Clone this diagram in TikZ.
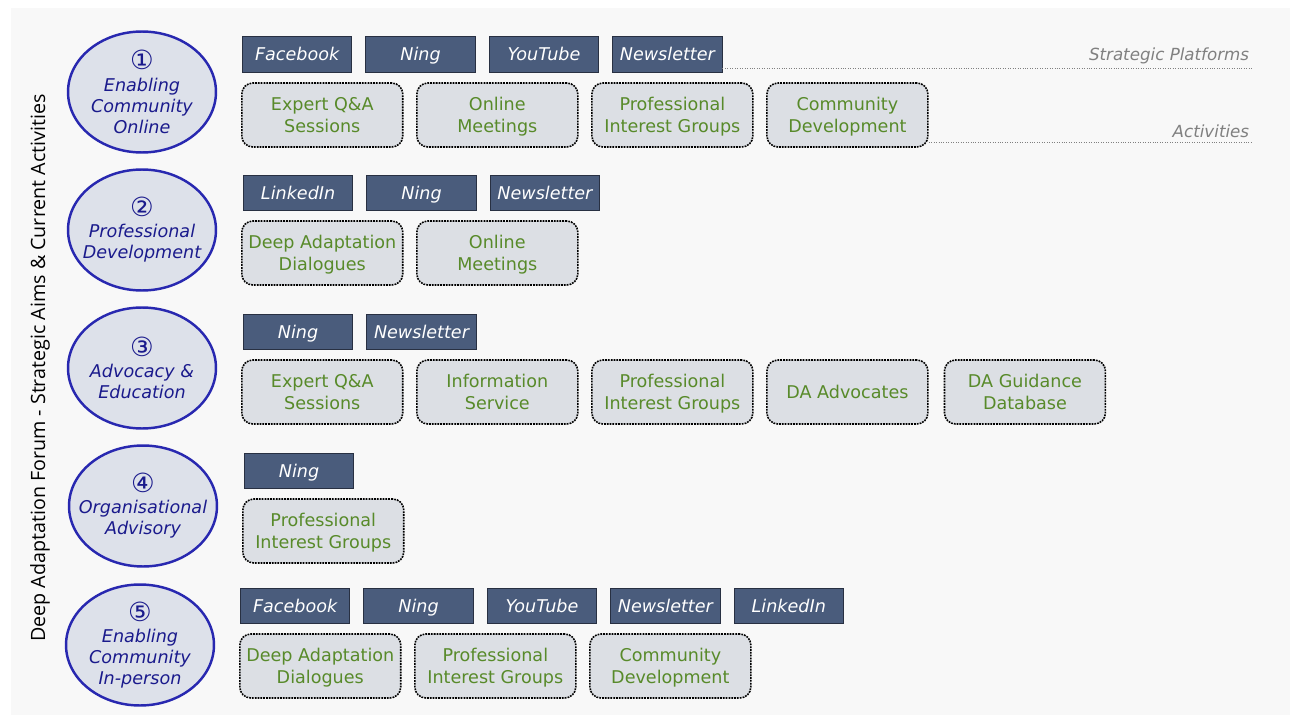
\documentclass[tikz,border=0pt]{standalone}
\usepackage{fontspec}
\setmainfont{DejaVu Sans}
\newfontfamily\titlefont{Open Sans}
\usepackage{tikz}
\usetikzlibrary{shapes}
\usetikzlibrary{positioning}

\definecolor{bgfill}{RGB}{248,248,248}
\definecolor{platfill}{RGB}{74,92,124}
\definecolor{platline}{RGB}{40,48,66}
\definecolor{actfill}{RGB}{220,223,228}
\definecolor{acttext}{RGB}{88,138,42}
\definecolor{aimfill}{RGB}{221,225,234}
\definecolor{aimline}{RGB}{40,40,176}
\definecolor{aimtext}{RGB}{26,26,140}
\definecolor{guidetext}{RGB}{128,128,128}

\newcommand{\aimnum}[1]{{\upshape\fontsize{15}{15}\selectfont #1}\\}

\begin{document}
\begin{tikzpicture}[
        x=0.02cm, y=-0.02cm,
        node distance=0.265cm,
        every node/.style={align=center, font=\fontsize{10}{12.5}\selectfont}
        ]
        \tikzstyle{aim} = [ellipse, draw=aimline, line width=1.4pt, fill=aimfill, minimum width=2.96cm, minimum height=2.42cm, inner sep=0pt];
        \tikzstyle{aimlabel} = [text=aimtext, font=\fontsize{10}{12}\selectfont\itshape, inner sep=0pt];
        \tikzstyle{plat} = [rectangle, draw=platline, fill=platfill, text=white, minimum width=2.19cm, minimum height=0.71cm, inner sep=0pt, text height=1.6ex, text depth=0.3ex, font=\fontsize{10}{12}\selectfont\itshape];
        \tikzstyle{act} = [rectangle, rounded corners=0.22cm, draw=black, line width=0.9pt, dash pattern=on 1pt off 0.6pt, fill=actfill, text=acttext, minimum width=3.22cm, minimum height=1.28cm, inner sep=0pt, text depth=-1.2pt];
        \tikzstyle{guide} = [densely dotted, gray];
        \tikzstyle{guidelabel} = [text=guidetext, font=\fontsize{9.5}{12}\selectfont\itshape, anchor=south east, inner sep=2pt];

        \useasboundingbox (0,0) rectangle (1295,723);
        \fill[bgfill] (11,8) rectangle (1290,715);

        \node[rotate=90, font=\titlefont\fontsize{11.2}{13}\selectfont] (title) at (40,368) {Deep Adaptation Forum - Strategic Aims \& Current Activities};

        % aim 1
        \node[aim] (a1) at (142,92) {};
        \node[aimlabel] (a1t) at (a1) {\aimnum{①}Enabling\\Community\\Online};
        \node[plat, anchor=west] (p1a) at (242,54.5) {Facebook};
        \node[plat, right=of p1a] (p1b) {Ning};
        \node[plat, right=of p1b] (p1c) {YouTube};
        \node[plat, right=of p1c] (p1d) {Newsletter};
        \node[act, anchor=west] (c1a) at (241,115) {Expert Q\&A\\Sessions};
        \node[act, right=0.25cm of c1a] (c1b) {Online\\Meetings};
        \node[act, right=0.25cm of c1b] (c1c) {Professional\\Interest Groups};
        \node[act, right=0.25cm of c1c] (c1d) {Community\\Development};

        \coordinate (sp) at (1253,68);
        \coordinate (ac) at (1253,142);
        \draw[guide] (sp -| p1d.east) -- (sp);
        \draw[guide] (ac -| c1d.east) -- (ac);
        \node[guidelabel] (spl) at (sp) {Strategic Platforms};
        \node[guidelabel] (acl) at (ac) {Activities};

        % aim 2
        \node[aim] (a2) at (142,230) {};
        \node[aimlabel] (a2t) at (a2) {\aimnum{②}Professional\\Development};
        \node[plat, anchor=west] (p2a) at (243,193) {LinkedIn};
        \node[plat, right=of p2a] (p2b) {Ning};
        \node[plat, right=of p2b] (p2c) {Newsletter};
        \node[act, anchor=west] (c2a) at (241,253) {Deep Adaptation\\Dialogues};
        \node[act, right=0.25cm of c2a] (c2b) {Online\\Meetings};

        % aim 3
        \node[aim] (a3) at (142,368) {};
        \node[aimlabel] (a3t) at (a3) {\aimnum{③}Advocacy \&\\Education};
        \node[plat, anchor=west] (p3a) at (243,332) {Ning};
        \node[plat, right=of p3a] (p3b) {Newsletter};
        \node[act, anchor=west] (c3a) at (241,392) {Expert Q\&A\\Sessions};
        \node[act, right=0.25cm of c3a] (c3b) {Information\\Service};
        \node[act, right=0.25cm of c3b] (c3c) {Professional\\Interest Groups};
        \node[act, right=0.25cm of c3c] (c3d) {DA Advocates};
        \node[act, right=0.3cm of c3d] (c3e) {DA Guidance\\Database};

        % aim 4
        \node[aim] (a4) at (143,506) {};
        \node[aimlabel] (a4t) at (a4) {\aimnum{④}Organisational\\Advisory};
        \node[plat, anchor=west] (p4a) at (244,471) {Ning};
        \node[act, anchor=west] (c4a) at (242,531) {Professional\\Interest Groups};

        % aim 5
        \node[aim] (a5) at (140,645) {};
        \node[aimlabel] (a5t) at (a5) {\aimnum{⑤}Enabling\\Community\\In-person};
        \node[plat, anchor=west] (p5a) at (240,606) {Facebook};
        \node[plat, right=of p5a] (p5b) {Ning};
        \node[plat, right=of p5b] (p5c) {YouTube};
        \node[plat, right=of p5c] (p5d) {Newsletter};
        \node[plat, right=of p5d] (p5e) {LinkedIn};
        \node[act, anchor=west] (c5a) at (239,666) {Deep Adaptation\\Dialogues};
        \node[act, right=0.25cm of c5a] (c5b) {Professional\\Interest Groups};
        \node[act, right=0.25cm of c5b] (c5c) {Community\\Development};
\end{tikzpicture}
\end{document}
